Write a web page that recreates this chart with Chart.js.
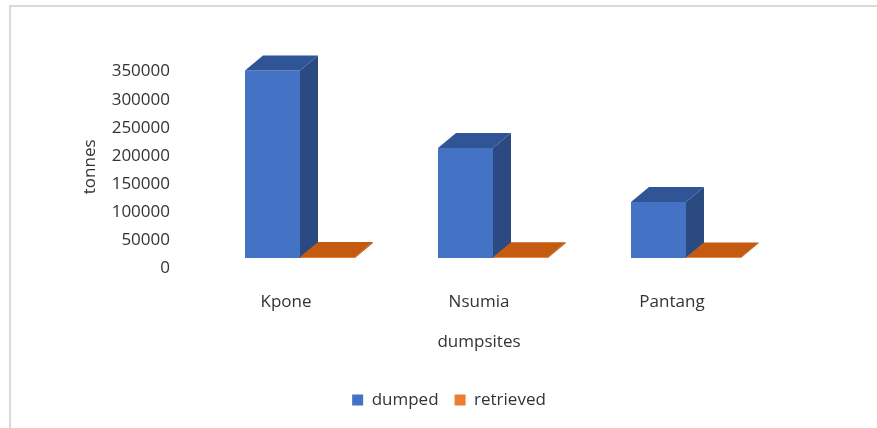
<!DOCTYPE html>
<html>
<head>
<meta charset="utf-8">
<script src="https://cdn.jsdelivr.net/npm/chart.js@4/dist/chart.umd.min.js"></script>
<style>
body{margin:0;background:#fff;overflow:hidden;}
#wrap{position:relative;width:877px;height:428px;}
#frame{position:absolute;left:9px;top:5px;width:880px;height:440px;border-left:2px solid #d9d9d9;border-top:2px solid #d9d9d9;}
canvas{position:absolute;left:0;top:0;}
</style>
</head>
<body>
<div id="wrap">
<div id="frame"></div>
<canvas id="chart" width="877" height="428"></canvas>
</div>
<script>

// data
let sites = ["Kpone", "Nsumia", "Pantang"]
let dumped = [334000, 196000, 100000]
let retrieved = [2000, 1500, 1000]

let seriesNames = ["dumped", "retrieved"]
let frontColors = ["#4472C4", "#ED7D31"]
let topColors = ["#2F5597", "#C55A11"]
let sideColors = ["#2B4A82", "#A84D0E"]

let yMax = 350000
let yStep = 50000

let depthX = 18
let depthY = 15
let labelShift = -14
let legendCenter = 449

let font = {family:"'Open Sans', sans-serif", size:17}
let textColor = "#333333"


function poly(ctx, pts){
ctx.beginPath();
ctx.moveTo(pts[0][0], pts[0][1]);
for(let i=1;i<pts.length;i++){
ctx.lineTo(pts[i][0], pts[i][1]);
}
ctx.closePath();
ctx.fill();
}

// draws the top and side faces of each bar, from the bar element positions
let bar3d = {
id:"bar3d",
afterDatasetsDraw(chart){
let ctx = chart.ctx;
ctx.save();
chart.data.datasets.forEach((ds, i)=>{
let meta = chart.getDatasetMeta(i);
meta.data.forEach(bar=>{
let p = bar.getProps(["x","y","base","width"], true);
let l = p.x - p.width/2;
let r = p.x + p.width/2;
ctx.fillStyle = sideColors[i];
poly(ctx, [[r,p.y],[r+depthX,p.y-depthY],[r+depthX,p.base-depthY],[r,p.base]]);
ctx.fillStyle = topColors[i];
poly(ctx, [[l,p.y],[r,p.y],[r+depthX,p.y-depthY],[l+depthX,p.y-depthY]]);
});
});
ctx.restore();
}
};

// axis titles + legend nudge
let axisTitles = {
id:"axisTitles",
afterLayout(chart){
let lg = chart.legend;
let shift = legendCenter - (lg.left + lg.right)/2;
lg.left += shift;
lg.right += shift;
},
afterDraw(chart){
let ctx = chart.ctx;
let xs = chart.scales.x;
let ys = chart.scales.y;
ctx.save();
ctx.fillStyle = textColor;
ctx.font = font.size + "px " + font.family;
ctx.textAlign = "center";
ctx.textBaseline = "middle";
ctx.fillText("dumpsites", xs.getPixelForTick(1) + labelShift, 342);
ctx.translate(90, (ys.top + ys.bottom)/2 + 7);
ctx.rotate(-Math.PI/2);
ctx.fillText("tonnes", 0, 0);
ctx.restore();
}
};


let datasets = [
{label:seriesNames[0], data:dumped, backgroundColor:frontColors[0], borderWidth:0},
{label:seriesNames[1], data:retrieved, backgroundColor:frontColors[1], borderWidth:0}
]

new Chart(document.getElementById("chart"),{

type:"bar",

data:{
labels:sites,
datasets:datasets
},

options:{
responsive:false,
animation:false,
devicePixelRatio:1,
categoryPercentage:0.57,
barPercentage:1,
layout:{
padding:{left:40, right:94.5, top:61.6, bottom:9.5}
},
plugins:{
legend:{
position:"bottom",
labels:{
boxWidth:11,
boxHeight:11,
padding:16,
color:textColor,
font:font
}
},
tooltip:{enabled:false}
},
scales:{
x:{
grid:{display:false, drawTicks:false},
border:{display:false},
ticks:{color:textColor, font:font, padding:34, labelOffset:labelShift},
afterFit(scale){ scale.height = 117.5; }
},
y:{
min:0,
max:yMax,
grid:{display:false, drawTicks:false},
border:{display:false},
ticks:{
stepSize:yStep,
autoSkip:false,
color:textColor,
font:font,
padding:33.5,
labelOffset:10,
callback:function(value){ return String(value); }
},
afterFit(scale){
scale.width = 163.5;
scale.paddingTop = 10;
scale.paddingBottom = 10;
}
}
}
},

plugins:[bar3d, axisTitles]

})

</script>
</body>
</html>
